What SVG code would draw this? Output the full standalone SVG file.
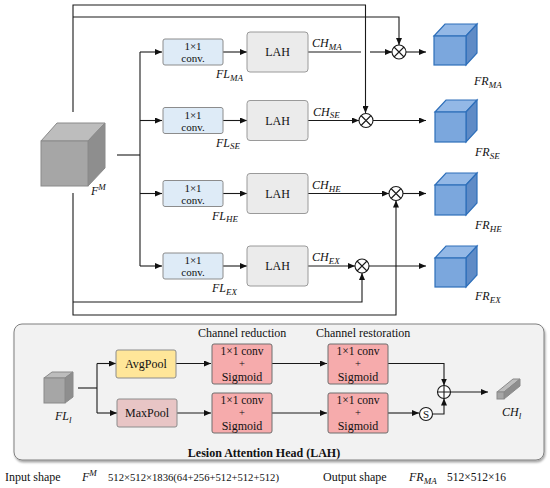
<svg xmlns="http://www.w3.org/2000/svg" width="550" height="488" viewBox="0 0 550 488" font-family="'Liberation Serif', 'DejaVu Serif', serif">
<defs>
<marker id="ah" markerWidth="7" markerHeight="6" refX="7" refY="3" orient="auto" markerUnits="userSpaceOnUse">
<path d="M0,0 L7,3 L0,6 z" fill="#111"/>
</marker>
<filter id="sh" x="-5%" y="-5%" width="110%" height="115%">
<feDropShadow dx="1" dy="2" stdDeviation="1.2" flood-color="#000" flood-opacity="0.35"/>
</filter>
</defs>
<style>
text{font-family:'Liberation Serif','DejaVu Serif',serif;fill:#111}
.t10{font-size:10.5px}
.t11{font-size:11px}
.t115{font-size:11.5px}
.t12{font-size:12px}
.it{font-style:italic;font-size:12px}
.sub{font-size:9px}
.ln{fill:none;stroke:#1a1a1a;stroke-width:1.1}
.arr{fill:none;stroke:#1a1a1a;stroke-width:1.1;marker-end:url(#ah)}
.conv{fill:#deebf7;stroke:#8c8c8c;stroke-width:1}
.lah{fill:#ebebeb;stroke:#9a9a9a;stroke-width:1}
.red{fill:#f6abac;stroke:#6e6e6e;stroke-width:1}
.op{fill:#fff;stroke:#1a1a1a;stroke-width:1.1}
.bf{fill:#7ba7dd;stroke:#2e6fba;stroke-width:1.2}
.bt{fill:#93b8e6;stroke:#2e6fba;stroke-width:1.2}
.br{fill:#5f8bc6;stroke:#2e6fba;stroke-width:1.2}
.gf{fill:#a6a6a6;stroke:#8a8a8a;stroke-width:1}
.gt{fill:#bdbdbd;stroke:#8a8a8a;stroke-width:1}
.gr{fill:#8e8e8e;stroke:#8a8a8a;stroke-width:1}
</style>

<g id="lah-panel">
<rect x="14" y="324" width="530" height="136" rx="8" fill="#f2f2f2" stroke="#7f7f7f" stroke-width="1" filter="url(#sh)"/>
<text x="264" y="457" class="t12" font-weight="bold" text-anchor="middle">Lesion Attention Head (LAH)</text>
<text x="198" y="337" class="t12">Channel reduction</text>
<text x="316" y="337" class="t12">Channel restoration</text>
</g>

<g id="connectors">
<path class="ln" d="M117,155 H140"/>
<path class="ln" d="M140,52 V266"/>
<path class="arr" d="M140,52 H162"/>
<path class="arr" d="M140,120.5 H162"/>
<path class="arr" d="M140,193.5 H162"/>
<path class="arr" d="M140,266 H162"/>
<path class="arr" d="M223,52 H247"/>
<path class="arr" d="M223,120.5 H247"/>
<path class="arr" d="M223,193.5 H247"/>
<path class="arr" d="M223,266 H247"/>
<path class="ln" d="M308,52 H361"/>
<path class="arr" d="M370,52 H392"/>
<path class="arr" d="M308,120.5 H359"/>
<path class="arr" d="M308,193.5 H389"/>
<path class="arr" d="M308,266 H355"/>
<path class="arr" d="M73,112 V5 H365.5 V113"/>
<path class="arr" d="M73,17 H399 V45"/>
<path class="arr" d="M73,193 V315 H396 V200.5"/>
<path class="arr" d="M73,302 H362 V273"/>
<path class="arr" d="M406,52 H426"/>
<path class="arr" d="M373,120.5 H426"/>
<path class="arr" d="M403,193.5 H426"/>
<path class="arr" d="M369,266 H426"/>
<path class="ln" d="M78,388 H97"/>
<path class="ln" d="M97,363.5 V413"/>
<path class="arr" d="M97,363.5 H116"/>
<path class="arr" d="M97,413 H117"/>
<path class="arr" d="M176,363.5 H211"/>
<path class="arr" d="M177,413 H211"/>
<path class="arr" d="M272,363.5 H327"/>
<path class="arr" d="M272,413 H327"/>
<path class="arr" d="M388,363.5 H444 V385.5"/>
<path class="arr" d="M388,413 H419"/>
<path class="arr" d="M433,414 H444 V398.5"/>
<path class="arr" d="M451,392 H488"/>
</g>

<g id="FM">
<polygon class="gt" points="41,141 57,123 105,123 88,141"/>
<polygon class="gr" points="88,141 105,123 105,168 88,186"/>
<rect class="gf" x="41" y="141" width="47" height="45"/>
<text x="91" y="195" class="it">F<tspan class="sub" dy="-5">M</tspan></text>
</g>

<g id="conv-MA">
<rect class="conv" x="163" y="39" width="60" height="26" rx="2"/>
<text x="193" y="50" class="t11" text-anchor="middle">1×1</text>
<text x="193" y="62" class="t11" text-anchor="middle">conv.</text>
<text x="216" y="78" class="it">FL<tspan class="sub" dy="2.5">MA</tspan></text>
</g>
<g id="conv-SE">
<rect class="conv" x="163" y="107.5" width="60" height="26" rx="2"/>
<text x="193" y="118.5" class="t11" text-anchor="middle">1×1</text>
<text x="193" y="130.5" class="t11" text-anchor="middle">conv.</text>
<text x="216" y="146.5" class="it">FL<tspan class="sub" dy="2.5">SE</tspan></text>
</g>
<g id="conv-HE">
<rect class="conv" x="163" y="180.5" width="60" height="26" rx="2"/>
<text x="193" y="191.5" class="t11" text-anchor="middle">1×1</text>
<text x="193" y="203.5" class="t11" text-anchor="middle">conv.</text>
<text x="212" y="219.5" class="it">FL<tspan class="sub" dy="2.5">HE</tspan></text>
</g>
<g id="conv-EX">
<rect class="conv" x="163" y="253" width="60" height="26" rx="2"/>
<text x="193" y="264" class="t11" text-anchor="middle">1×1</text>
<text x="193" y="276" class="t11" text-anchor="middle">conv.</text>
<text x="212" y="292" class="it">FL<tspan class="sub" dy="2.5">EX</tspan></text>
</g>

<g id="LAH-MA">
<rect class="lah" x="247" y="32" width="61" height="40" rx="3"/>
<text x="277.5" y="56" class="t12" text-anchor="middle">LAH</text>
<text x="312" y="47" class="it">CH<tspan class="sub" dy="2.5">MA</tspan></text>
</g>
<g id="LAH-SE">
<rect class="lah" x="247" y="100.5" width="61" height="40" rx="3"/>
<text x="277.5" y="124.5" class="t12" text-anchor="middle">LAH</text>
<text x="313" y="115.5" class="it">CH<tspan class="sub" dy="2.5">SE</tspan></text>
</g>
<g id="LAH-HE">
<rect class="lah" x="247" y="173.5" width="61" height="40" rx="3"/>
<text x="277.5" y="197.5" class="t12" text-anchor="middle">LAH</text>
<text x="312" y="189" class="it">CH<tspan class="sub" dy="2.5">HE</tspan></text>
</g>
<g id="LAH-EX">
<rect class="lah" x="247" y="246" width="61" height="40" rx="3"/>
<text x="277.5" y="270" class="t12" text-anchor="middle">LAH</text>
<text x="312" y="261" class="it">CH<tspan class="sub" dy="2.5">EX</tspan></text>
</g>

<g id="mul-MA">
<circle class="op" cx="399" cy="52" r="7"/>
<path class="ln" d="M394,47 L404,57 M404,47 L394,57"/>
</g>
<g id="mul-SE">
<circle class="op" cx="366" cy="120.5" r="7"/>
<path class="ln" d="M361,115.5 L371,125.5 M371,115.5 L361,125.5"/>
</g>
<g id="mul-HE">
<circle class="op" cx="396" cy="193.5" r="7"/>
<path class="ln" d="M391,188.5 L401,198.5 M401,188.5 L391,198.5"/>
</g>
<g id="mul-EX">
<circle class="op" cx="362" cy="266" r="7"/>
<path class="ln" d="M357,261 L367,271 M367,261 L357,271"/>
</g>

<g id="FR-MA">
<polygon class="bt" points="434,36 445,24 477,24 466,36"/>
<polygon class="br" points="466,36 477,24 477,53 466,65"/>
<rect class="bf" x="434" y="36" width="32" height="29"/>
<text x="474" y="85" class="it">FR<tspan class="sub" dy="2.5">MA</tspan></text>
</g>
<g id="FR-SE">
<polygon class="bt" points="435,112 446,100 477,100 466,112"/>
<polygon class="br" points="466,112 477,100 477,130 466,142"/>
<rect class="bf" x="435" y="112" width="31" height="30"/>
<text x="475" y="156" class="it">FR<tspan class="sub" dy="2.5">SE</tspan></text>
</g>
<g id="FR-HE">
<polygon class="bt" points="435,185 446,173 477,173 466,185"/>
<polygon class="br" points="466,185 477,173 477,203 466,215"/>
<rect class="bf" x="435" y="185" width="31" height="30"/>
<text x="475" y="229" class="it">FR<tspan class="sub" dy="2.5">HE</tspan></text>
</g>
<g id="FR-EX">
<polygon class="bt" points="435,258 446,246 477,246 466,258"/>
<polygon class="br" points="466,258 477,246 477,275 466,287"/>
<rect class="bf" x="435" y="258" width="31" height="29"/>
<text x="475" y="300" class="it">FR<tspan class="sub" dy="2.5">EX</tspan></text>
</g>

<g id="FLl">
<polygon class="gt" points="44,378 52,372 73,372 65,378"/>
<polygon class="gr" points="65,378 73,372 73,397 65,403"/>
<rect class="gf" x="44" y="378" width="21" height="25"/>
<text x="55" y="420" class="it">FL<tspan class="sub" dy="2.5">l</tspan></text>
</g>
<g id="avgpool">
<rect x="116" y="350" width="60" height="28" rx="2" fill="#ffe699" stroke="#8c8c8c"/>
<text x="146" y="368" class="t12" text-anchor="middle">AvgPool</text>
</g>
<g id="maxpool">
<rect x="117" y="399" width="60" height="28" rx="2" fill="#e8c5c5" stroke="#8c8c8c"/>
<text x="147" y="417" class="t12" text-anchor="middle">MaxPool</text>
</g>
<g id="red1">
<rect class="red" x="212" y="344" width="60" height="40" rx="2"/>
<text x="242" y="354.5" class="t115" text-anchor="middle">1×1 conv</text>
<text x="242" y="367" class="t10" text-anchor="middle">+</text>
<text x="242" y="381" class="t12" text-anchor="middle">Sigmoid</text>
</g>
<g id="red2">
<rect class="red" x="212" y="393" width="60" height="40" rx="2"/>
<text x="242" y="403.5" class="t115" text-anchor="middle">1×1 conv</text>
<text x="242" y="416" class="t10" text-anchor="middle">+</text>
<text x="242" y="430" class="t12" text-anchor="middle">Sigmoid</text>
</g>
<g id="red3">
<rect class="red" x="328" y="344" width="60" height="40" rx="2"/>
<text x="358" y="354.5" class="t115" text-anchor="middle">1×1 conv</text>
<text x="358" y="367" class="t10" text-anchor="middle">+</text>
<text x="358" y="381" class="t12" text-anchor="middle">Sigmoid</text>
</g>
<g id="red4">
<rect class="red" x="328" y="393" width="60" height="40" rx="2"/>
<text x="358" y="403.5" class="t115" text-anchor="middle">1×1 conv</text>
<text x="358" y="416" class="t10" text-anchor="middle">+</text>
<text x="358" y="430" class="t12" text-anchor="middle">Sigmoid</text>
</g>
<g id="sigma">
<circle class="op" cx="426" cy="414" r="6.5"/>
<text x="426" y="418" class="t11" text-anchor="middle">S</text>
</g>
<g id="oplus">
<circle class="op" cx="444" cy="392" r="6.5"/>
<path class="ln" d="M437.5,392 H450.5 M444,385.5 V398.5"/>
</g>
<g id="CHl">
<polygon points="497,392 513,379 520,379 504,392" fill="#bdbdbd" stroke="#8a8a8a"/>
<polygon points="504,392 520,379 520,386 504,399" fill="#8e8e8e" stroke="#8a8a8a"/>
<rect x="497" y="392" width="7" height="7" fill="#a6a6a6" stroke="#8a8a8a"/>
<text x="502" y="416" class="it">CH<tspan class="sub" dy="2.5">l</tspan></text>
</g>

<g id="info">
<text x="5" y="481" class="t12">Input shape</text>
<text x="82" y="481" class="it">F<tspan class="sub" dy="-5">M</tspan></text>
<text x="108" y="481" class="t11" textLength="171" lengthAdjust="spacingAndGlyphs">512×512×1836(64+256+512+512+512)</text>
<text x="323" y="481" class="t12">Output shape</text>
<text x="409" y="481" class="it">FR<tspan class="sub" dy="2.5">MA</tspan></text>
<text x="447" y="481" class="t115">512×512×16</text>
</g>
</svg>
